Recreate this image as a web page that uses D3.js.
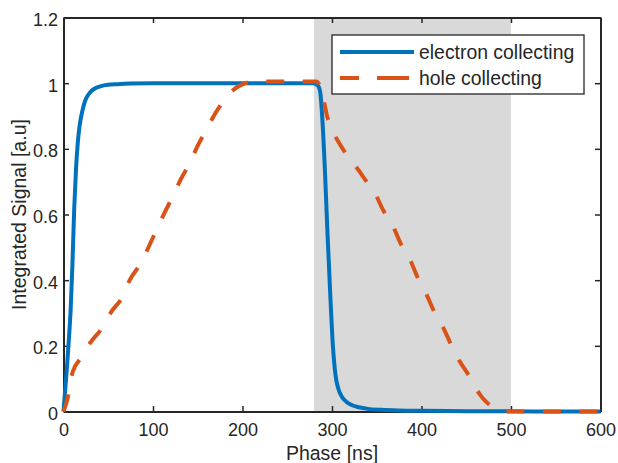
<!DOCTYPE html>
<html lang="en">

<head>
    <meta charset="utf-8">
    <title>Integrated Signal</title>
    <script src="https://d3js.org/d3.v7.min.js"></script>
    <style>
        body { margin: 0; background: #fff; }
        text { font-family: "Liberation Sans", Arial, sans-serif; fill: #262626; }
    </style>
</head>

<body>
    <script>
        // values
        const electronPhase = [0, 2, 4, 6, 8, 10, 12, 14, 16, 18, 21, 24, 27, 31, 36, 42, 50, 60, 75, 100, 150, 200, 250, 279,
            282, 285, 287, 289, 292, 295, 298, 301, 304, 307, 311, 316, 322, 330, 340, 355, 375, 400, 450, 500, 550, 600];
        const electronSignal = [0, 0.07, 0.14, 0.22, 0.31, 0.45, 0.62, 0.74, 0.82, 0.87, 0.915, 0.945, 0.962, 0.976, 0.985, 0.991, 0.995, 0.997, 0.999, 1, 1, 1, 1, 1,
            0.997, 0.99, 0.97, 0.9, 0.74, 0.54, 0.36, 0.2, 0.11, 0.07, 0.045, 0.03, 0.02, 0.013, 0.008, 0.005, 0.003, 0.002, 0.001, 0.0005, 0.0002, 0];

        const holePhase = [0, 2.5, 5, 8, 10, 13, 18, 24, 30, 43, 53, 66, 74, 86, 100, 113, 122, 131, 141, 150, 159, 170, 181, 190, 198, 206, 215, 250, 282,
            285, 288, 291, 294, 300, 312, 324, 336, 348, 357, 368, 377, 387, 396, 405, 414, 424, 433, 442, 454, 464, 472, 480, 488, 495, 500, 550, 600];
        const holeSignal = [0, 0.02, 0.045, 0.095, 0.118, 0.138, 0.158, 0.185, 0.21, 0.254, 0.302, 0.35, 0.4, 0.45, 0.53, 0.606, 0.654, 0.707, 0.756, 0.81, 0.855, 0.91, 0.953, 0.98, 0.994, 1.002, 1.005, 1.005, 1.005,
            1.0, 0.98, 0.945, 0.905, 0.86, 0.8, 0.757, 0.71, 0.665, 0.614, 0.565, 0.51, 0.464, 0.406, 0.36, 0.305, 0.257, 0.204, 0.156, 0.105, 0.057, 0.03, 0.014, 0.005, 0.001, 0, 0, 0];

        const shadedPhase = [280, 500];
        const seriesNames = ["electron collecting", "hole collecting"];

        const xTicks = [0, 100, 200, 300, 400, 500, 600];
        const yTicks = [0, 0.2, 0.4, 0.6, 0.8, 1, 1.2];
        const yTickLabels = ["0", "0.2", "0.4", "0.6", "0.8", "1", "1.2"];

        // sizes and colors
        const width = 618;
        const height = 463;
        const margin = { top: 17.5, left: 63.5, right: 17.5, bottom: 51.5 };
        const blue = "#0072BD";
        const orange = "#D95319";
        const axisColor = "#262626";

        const svg = d3.select("body")
            .append("svg")
            .attr("width", width)
            .attr("height", height);

        const x = d3.scaleLinear()
            .domain([0, 600])
            .range([margin.left, width - margin.right]);

        const y = d3.scaleLinear()
            .domain([0, 1.2])
            .range([height - margin.bottom, margin.top]);

        // gray band
        svg.append("rect")
            .attr("x", x(shadedPhase[0]))
            .attr("y", y(1.2))
            .attr("width", x(shadedPhase[1]) - x(shadedPhase[0]))
            .attr("height", y(0) - y(1.2))
            .attr("fill", "#d9d9d9");

        // axes with inward ticks on all four sides
        const tickLen = 5.5;
        const bottomAxis = d3.axisBottom(x).tickValues(xTicks).tickSize(-tickLen).tickSizeOuter(0).tickPadding(12);
        const topAxis = d3.axisTop(x).tickValues(xTicks).tickSize(-tickLen).tickSizeOuter(0).tickFormat("");
        const leftAxis = d3.axisLeft(y).tickValues(yTicks).tickSize(-tickLen).tickSizeOuter(0).tickPadding(5.5)
            .tickFormat((d, i) => yTickLabels[i]);
        const rightAxis = d3.axisRight(y).tickValues(yTicks).tickSize(-tickLen).tickSizeOuter(0).tickFormat("");

        const gx = svg.append("g").attr("transform", "translate(0," + y(0) + ")").call(bottomAxis);
        const gxt = svg.append("g").attr("transform", "translate(0," + y(1.2) + ")").call(topAxis);
        const gy = svg.append("g").attr("transform", "translate(" + x(0) + ",0)").call(leftAxis);
        const gyr = svg.append("g").attr("transform", "translate(" + x(600) + ",0)").call(rightAxis);

        [gx, gxt, gy, gyr].forEach(g => {
            g.select(".domain").attr("stroke", axisColor).attr("stroke-width", 2);
            g.selectAll(".tick line").attr("stroke", axisColor).attr("stroke-width", 1.5);
            g.selectAll(".tick text").attr("font-size", 18).attr("fill", axisColor)
                .style("font-family", "'Liberation Sans', Arial, sans-serif");
        });
        gy.selectAll(".tick text").attr("dy", "0.45em");

        // axis labels
        svg.append("text")
            .attr("x", (x(0) + x(600)) / 2)
            .attr("y", 460)
            .attr("text-anchor", "middle")
            .attr("font-size", 19.5)
            .text("Phase [ns]");

        svg.append("text")
            .attr("transform", "translate(26," + (y(0) + y(1.2)) / 2 + ") rotate(-90)")
            .attr("text-anchor", "middle")
            .attr("font-size", 19.5)
            .text("Integrated Signal [a.u]");

        // curves
        const line = d3.line()
            .x(d => x(d[0]))
            .y(d => y(d[1]))
            .curve(d3.curveMonotoneX);

        const electron = electronPhase.map((p, i) => [p, electronSignal[i]]);
        const hole = holePhase.map((p, i) => [p, holeSignal[i]]);

        svg.append("path")
            .datum(electron)
            .attr("d", line)
            .attr("fill", "none")
            .attr("stroke", blue)
            .attr("stroke-width", 4);

        svg.append("path")
            .datum(hole)
            .attr("d", line)
            .attr("fill", "none")
            .attr("stroke", orange)
            .attr("stroke-width", 4)
            .attr("stroke-dasharray", "18,18.5");

        // legend
        const legend = svg.append("g");
        legend.append("rect")
            .attr("x", 332)
            .attr("y", 35)
            .attr("width", 252)
            .attr("height", 59)
            .attr("fill", "#fff")
            .attr("stroke", axisColor)
            .attr("stroke-width", 1.3);

        legend.append("line")
            .attr("x1", 340).attr("x2", 414)
            .attr("y1", 52).attr("y2", 52)
            .attr("stroke", blue)
            .attr("stroke-width", 4);

        legend.append("line")
            .attr("x1", 340).attr("x2", 409)
            .attr("y1", 78).attr("y2", 78)
            .attr("stroke", orange)
            .attr("stroke-width", 4)
            .attr("stroke-dasharray", "19,18,32");

        legend.selectAll("text.label")
            .data(seriesNames)
            .enter()
            .append("text")
            .attr("class", "label")
            .attr("x", 419)
            .attr("y", (d, i) => 59 + i * 26)
            .attr("font-size", 19.4)
            .attr("fill", "#000")
            .text(d => d);
    </script>
</body>

</html>
